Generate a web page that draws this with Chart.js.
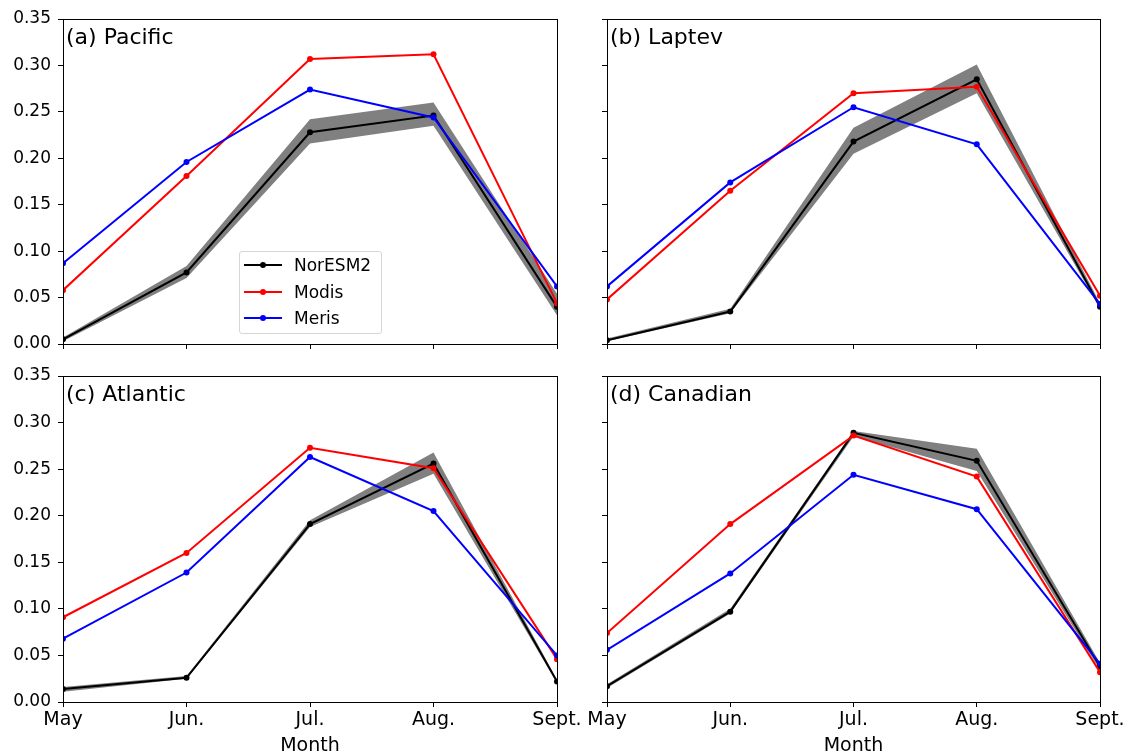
<!DOCTYPE html>
<html><head><meta charset="utf-8">
<script src="https://cdn.jsdelivr.net/npm/chart.js@4/dist/chart.umd.min.js"></script>
<style>
html,body{margin:0;padding:0;width:1126px;height:755px;overflow:hidden;background:#fff;font-family:"DejaVu Sans",sans-serif;}
canvas.panel{position:absolute;left:0;top:0;}
#legend{position:absolute;left:239px;top:251px;width:143px;height:83px;box-sizing:border-box;border:1px solid #d6d6d6;border-radius:3px;background:rgba(255,255,255,0.85);padding:0 0 0 4px;z-index:10;}
#legend .row{height:26.5px;display:flex;align-items:center;font-size:17px;color:#000;}
#legend .icon{position:relative;width:38px;height:2px;margin-right:12px;}
#legend .icon i{position:absolute;width:6px;height:6px;border-radius:50%;left:16px;top:-2px;}
</style></head><body>
<div id="legend"></div>
<script>
// ---------- data ----------
const months = ['May', 'Jun.', 'Jul.', 'Aug.', 'Sept.'];
const yTicks = [0.00, 0.05, 0.10, 0.15, 0.20, 0.25, 0.30, 0.35];
const seriesNames = ['NorESM2', 'Modis', 'Meris'];
const regionTitles = ['(a) Pacific', '(b) Laptev', '(c) Atlantic', '(d) Canadian'];
const xAxisTitle = 'Month';

const pacificNorESM2     = [0.005, 0.077, 0.228, 0.246, 0.040];
const pacificNorESM2Low  = [0.003, 0.071, 0.216, 0.235, 0.031];
const pacificNorESM2High = [0.007, 0.084, 0.242, 0.260, 0.054];
const pacificModis       = [0.058, 0.181, 0.307, 0.312, 0.044];
const pacificMeris       = [0.087, 0.196, 0.274, 0.244, 0.062];

const laptevNorESM2     = [0.004, 0.035, 0.218, 0.285, 0.040];
const laptevNorESM2Low  = [0.003, 0.033, 0.205, 0.270, 0.038];
const laptevNorESM2High = [0.006, 0.038, 0.233, 0.301, 0.044];
const laptevModis       = [0.048, 0.165, 0.270, 0.277, 0.052];
const laptevMeris       = [0.062, 0.174, 0.255, 0.215, 0.043];

const atlanticNorESM2     = [0.014, 0.026, 0.191, 0.256, 0.022];
const atlanticNorESM2Low  = [0.011, 0.025, 0.188, 0.245, 0.020];
const atlanticNorESM2High = [0.016, 0.028, 0.195, 0.268, 0.024];
const atlanticModis       = [0.091, 0.160, 0.273, 0.251, 0.046];
const atlanticMeris       = [0.068, 0.139, 0.263, 0.205, 0.050];

const canadianNorESM2     = [0.017, 0.097, 0.289, 0.259, 0.038];
const canadianNorESM2Low  = [0.015, 0.095, 0.285, 0.248, 0.034];
const canadianNorESM2High = [0.019, 0.100, 0.291, 0.272, 0.042];
const canadianModis       = [0.074, 0.191, 0.286, 0.242, 0.032];
const canadianMeris       = [0.056, 0.138, 0.244, 0.207, 0.041];

// ---------- styling / layout ----------
const seriesColors = {NorESM2: '#000000', Modis: '#ff0000', Meris: '#0000ff'};
const bandColor = 'rgb(128,128,128)';
const FONT = '"DejaVu Sans", sans-serif';
const CW = 1200, CH = 800;

const panels = [
  {title: regionTitles[0], mean: pacificNorESM2, low: pacificNorESM2Low, high: pacificNorESM2High, modis: pacificModis, meris: pacificMeris, L: 63, R: 557, T: 19, B: 344, left: true, bottom: false},
  {title: regionTitles[1], mean: laptevNorESM2, low: laptevNorESM2Low, high: laptevNorESM2High, modis: laptevModis, meris: laptevMeris, L: 607, R: 1100, T: 19, B: 344, left: false, bottom: false},
  {title: regionTitles[2], mean: atlanticNorESM2, low: atlanticNorESM2Low, high: atlanticNorESM2High, modis: atlanticModis, meris: atlanticMeris, L: 63, R: 557, T: 376, B: 702, left: true, bottom: true},
  {title: regionTitles[3], mean: canadianNorESM2, low: canadianNorESM2Low, high: canadianNorESM2High, modis: canadianModis, meris: canadianMeris, L: 607, R: 1100, T: 376, B: 702, left: false, bottom: true}
];

const framePlugin = {
  id: 'frame',
  afterDatasetsDraw(chart, args, opts) {
    const a = chart.chartArea, ctx = chart.ctx;
    ctx.save();
    ctx.strokeStyle = '#000'; ctx.lineWidth = 1;
    ctx.strokeRect(Math.round(a.left) + 0.5, Math.round(a.top) + 0.5, Math.round(a.right - a.left), Math.round(a.bottom - a.top));
    ctx.font = '22px ' + FONT;
    ctx.fillStyle = '#000';
    ctx.textBaseline = 'middle';
    ctx.textAlign = 'left';
    ctx.fillText(opts.text, a.left + 3, a.top + 19);
    ctx.restore();
  }
};

function lineDs(label, data, color) {
  return {label, data, borderColor: color, backgroundColor: color, borderWidth: 2,
    pointRadius: 3, pointHoverRadius: 3, pointBorderWidth: 0, fill: false, tension: 0, clip: 0};
}

panels.forEach(p => {
  const c = document.createElement('canvas');
  c.className = 'panel';
  c.width = CW; c.height = CH;
  c.style.width = CW + 'px'; c.style.height = CH + 'px';
  document.body.appendChild(c);
  const yw = p.left ? 60 : 5;
  const xh = p.bottom ? 55 : 5;
  new Chart(c, {
    type: 'line',
    data: {
      labels: months,
      datasets: [
        lineDs(seriesNames[2], p.meris, seriesColors.Meris),
        lineDs(seriesNames[1], p.modis, seriesColors.Modis),
        lineDs(seriesNames[0], p.mean, seriesColors.NorESM2),
        {label: 'NorESM2 high', data: p.high, borderWidth: 0, borderColor: bandColor, pointRadius: 0, backgroundColor: bandColor, fill: '+1', tension: 0},
        {label: 'NorESM2 low', data: p.low, borderWidth: 0, borderColor: bandColor, pointRadius: 0, backgroundColor: bandColor, fill: false, tension: 0}
      ]
    },
    options: {
      responsive: false, animation: false, devicePixelRatio: 1,
      events: [],
      layout: {padding: {left: p.L - yw, top: p.T, right: CW - p.R, bottom: CH - p.B - xh}},
      plugins: {legend: {display: false}, tooltip: {enabled: false}, title: {display: false}, frame: {text: p.title}},
      scales: {
        x: {
          type: 'category', offset: false,
          border: {display: false},
          grid: {display: true, drawOnChartArea: false, drawTicks: true, tickLength: 5, tickColor: '#000', tickWidth: 1},
          ticks: {display: p.bottom, color: '#000', font: {family: FONT, size: 19}, padding: 2, maxRotation: 0, autoSkip: false},
          title: {display: p.bottom, text: xAxisTitle, color: '#000', font: {family: FONT, size: 19}, padding: {top: 0, bottom: 0}},
          afterFit(s) { s.height = xh; }
        },
        y: {
          type: 'linear', min: 0, max: 0.35,
          border: {display: false},
          grid: {display: true, drawOnChartArea: false, drawTicks: true, tickLength: 5, tickColor: '#000', tickWidth: 1},
          ticks: {display: p.left, color: '#000', font: {family: FONT, size: 17}, padding: 7, callback: v => Number(v).toFixed(2)},
          afterBuildTicks(s) { s.ticks = yTicks.map(v => ({value: v})); },
          afterFit(s) { s.width = yw; }
        }
      }
    },
    plugins: [framePlugin]
  });
});

// legend (panel a)
const lg = document.getElementById('legend');
seriesNames.forEach(n => {
  const row = document.createElement('div'); row.className = 'row';
  const icon = document.createElement('span'); icon.className = 'icon'; icon.style.background = seriesColors[n];
  const dot = document.createElement('i'); dot.style.background = seriesColors[n]; icon.appendChild(dot);
  const t = document.createElement('span'); t.textContent = n;
  row.appendChild(icon); row.appendChild(t); lg.appendChild(row);
});
</script>
</body></html>
